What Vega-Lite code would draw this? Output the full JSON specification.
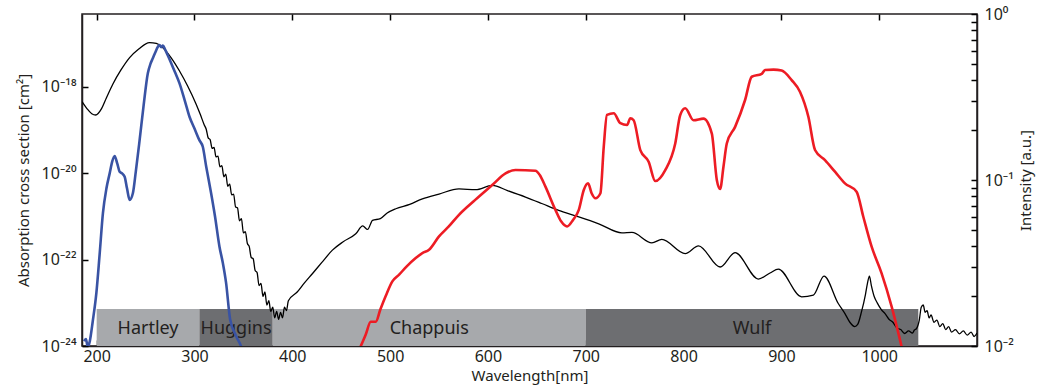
{
  "$schema": "https://vega.github.io/schema/vega-lite/v6.json",
  "width": 895,
  "height": 332,
  "autosize": "none",
  "padding": {"left": 82, "top": 14, "right": 65, "bottom": 44},
  "config": {
    "font": "Noto Sans",
    "view": {"stroke": "#231F20", "strokeWidth": 1.5},
    "axis": {
      "domainColor": "#231F20", "domainWidth": 1.5,
      "labelColor": "#231F20", "labelFont": "Noto Sans", "labelFontSize": 16,
      "titleColor": "#231F20", "titleFont": "Noto Sans", "titleFontSize": 15, "titleFontWeight": "normal",
      "grid": false
    }
  },
  "datasets": {
    "bands": [
      {"band": "Hartley", "start": 200, "end": 305},
      {"band": "Huggins", "start": 305, "end": 380},
      {"band": "Chappuis", "start": 380, "end": 700},
      {"band": "Wulf", "start": 700, "end": 1040}
    ],
    "ozone": [
      {"wl":185,"sigma":4.57e-19},{"wl":190,"sigma":3.16e-19},{"wl":195,"sigma":2.40e-19},{"wl":199,"sigma":2.24e-19},
      {"wl":205,"sigma":3.16e-19},{"wl":210,"sigma":5.62e-19},{"wl":216.6,"sigma":1.17e-18},{"wl":225,"sigma":2.51e-18},
      {"wl":233.7,"sigma":4.79e-18},{"wl":243,"sigma":7.59e-18},{"wl":254,"sigma":1.07e-17},{"wl":261,"sigma":1.02e-17},
      {"wl":267.7,"sigma":8.13e-18},{"wl":276,"sigma":4.79e-18},{"wl":284.7,"sigma":2.34e-18},{"wl":293,"sigma":1.05e-18},
      {"wl":301.7,"sigma":3.98e-19},{"wl":306,"sigma":2.29e-19},{"wl":310,"sigma":1.32e-19},{"wl":312,"sigma":1.05e-19},
      {"wl":314,"sigma":6.61e-20},{"wl":316,"sigma":6.03e-20},{"wl":318,"sigma":3.80e-20},{"wl":320,"sigma":3.98e-20},
      {"wl":322,"sigma":2.40e-20},{"wl":324,"sigma":2.51e-20},{"wl":326,"sigma":1.41e-20},{"wl":328,"sigma":1.51e-20},
      {"wl":330,"sigma":8.32e-21},{"wl":332,"sigma":9.55e-21},{"wl":334,"sigma":5.01e-21},{"wl":336,"sigma":5.62e-21},
      {"wl":338,"sigma":3.16e-21},{"wl":340,"sigma":3.31e-21},{"wl":342,"sigma":1.66e-21},{"wl":344,"sigma":1.58e-21},
      {"wl":346,"sigma":7.94e-22},{"wl":348,"sigma":8.91e-22},{"wl":350,"sigma":4.17e-22},{"wl":352,"sigma":4.47e-22},
      {"wl":354,"sigma":2.40e-22},{"wl":356,"sigma":2.00e-22},{"wl":358,"sigma":1.12e-22},{"wl":360,"sigma":1.05e-22},
      {"wl":362,"sigma":5.62e-23},{"wl":364,"sigma":5.01e-23},{"wl":366,"sigma":2.51e-23},{"wl":368,"sigma":2.82e-23},
      {"wl":370,"sigma":1.41e-23},{"wl":372,"sigma":1.78e-23},{"wl":374,"sigma":8.91e-24},{"wl":376,"sigma":1.12e-23},
      {"wl":378,"sigma":6.31e-24},{"wl":380,"sigma":7.94e-24},{"wl":382,"sigma":4.47e-24},{"wl":384,"sigma":6.31e-24},
      {"wl":386,"sigma":4.17e-24},{"wl":388,"sigma":6.03e-24},{"wl":390,"sigma":4.47e-24},{"wl":392,"sigma":7.94e-24},
      {"wl":394,"sigma":6.61e-24},{"wl":396,"sigma":1.12e-23},{"wl":405,"sigma":1.78e-23},{"wl":412,"sigma":2.82e-23},
      {"wl":420.7,"sigma":4.79e-23},{"wl":430,"sigma":8.5e-23},{"wl":441,"sigma":1.66e-22},{"wl":452,"sigma":2.6e-22},
      {"wl":464.9,"sigma":3.98e-22},{"wl":472,"sigma":6.03e-22},{"wl":477,"sigma":5.01e-22},{"wl":482,"sigma":8.13e-22},
      {"wl":490,"sigma":8.91e-22},{"wl":497,"sigma":1.20e-21},{"wl":505.8,"sigma":1.51e-21},{"wl":520,"sigma":1.91e-21},
      {"wl":533,"sigma":2.57e-21},{"wl":550,"sigma":3.31e-21},{"wl":570.4,"sigma":4.37e-21},{"wl":587.4,"sigma":4.17e-21},
      {"wl":604.4,"sigma":5.25e-21},{"wl":620,"sigma":3.98e-21},{"wl":638.4,"sigma":2.82e-21},{"wl":655,"sigma":2.00e-21},
      {"wl":672.4,"sigma":1.38e-21},{"wl":692.9,"sigma":9.77e-22},{"wl":713.3,"sigma":6.76e-22},{"wl":737,"sigma":4.17e-22},
      {"wl":747.2,"sigma":4.27e-22},{"wl":767.6,"sigma":2.45e-22},{"wl":777.8,"sigma":2.95e-22},{"wl":801.7,"sigma":1.38e-22},
      {"wl":815.3,"sigma":2.09e-22},{"wl":837.4,"sigma":6.76e-23},{"wl":852.7,"sigma":1.45e-22},{"wl":876.5,"sigma":3.55e-23},
      {"wl":888.4,"sigma":4.90e-23},{"wl":896.9,"sigma":6.03e-23},{"wl":920.7,"sigma":1.38e-23},{"wl":932.7,"sigma":1.51e-23},
      {"wl":943.6,"sigma":4.17e-23},{"wl":958,"sigma":9.77e-24},{"wl":965,"sigma":5.62e-24},{"wl":970,"sigma":3.55e-24},
      {"wl":975,"sigma":2.82e-24},{"wl":978,"sigma":3.16e-24},{"wl":982,"sigma":6.31e-24},{"wl":986,"sigma":1.58e-23},
      {"wl":988,"sigma":2.82e-23},{"wl":990,"sigma":4.17e-23},{"wl":992,"sigma":2.51e-23},{"wl":995,"sigma":1.38e-23},
      {"wl":998,"sigma":1.0e-23},{"wl":1002,"sigma":7.08e-24},{"wl":1006,"sigma":5.62e-24},{"wl":1010,"sigma":4.17e-24},
      {"wl":1014,"sigma":3.55e-24},{"wl":1018,"sigma":2.63e-24},{"wl":1022,"sigma":2.40e-24},{"wl":1026,"sigma":1.95e-24},
      {"wl":1030,"sigma":2.24e-24},{"wl":1034,"sigma":2.00e-24},{"wl":1036,"sigma":2.34e-24},{"wl":1038,"sigma":2.51e-24},
      {"wl":1041,"sigma":3.98e-24},{"wl":1043,"sigma":7.94e-24},{"wl":1045,"sigma":8.91e-24},{"wl":1047,"sigma":6.03e-24},
      {"wl":1049,"sigma":6.61e-24},{"wl":1051,"sigma":4.47e-24},{"wl":1053,"sigma":5.25e-24},{"wl":1056,"sigma":3.55e-24},
      {"wl":1059,"sigma":3.98e-24},{"wl":1062,"sigma":2.82e-24},{"wl":1065,"sigma":3.31e-24},{"wl":1068,"sigma":2.40e-24},
      {"wl":1071,"sigma":2.82e-24},{"wl":1074,"sigma":2.09e-24},{"wl":1078,"sigma":2.40e-24},{"wl":1082,"sigma":1.91e-24},
      {"wl":1086,"sigma":2.24e-24},{"wl":1090,"sigma":1.78e-24},{"wl":1094,"sigma":2.09e-24},{"wl":1097,"sigma":1.66e-24},
      {"wl":1100,"sigma":2.00e-24}
    ],
    "uvlamp": [
      {"wl":187,"I":0.0107},{"wl":189,"I":0.011},{"wl":191,"I":0.0098},{"wl":193,"I":0.0107},{"wl":196,"I":0.0141},
      {"wl":199.7,"I":0.0209},{"wl":203,"I":0.0355},{"wl":206.4,"I":0.0631},{"wl":210,"I":0.0891},{"wl":213.3,"I":0.1096},
      {"wl":216,"I":0.130},{"wl":218.4,"I":0.1396},{"wl":221,"I":0.1259},{"wl":223.5,"I":0.1122},{"wl":226,"I":0.1096},
      {"wl":228.6,"I":0.1047},{"wl":231,"I":0.0891},{"wl":233.7,"I":0.0759},{"wl":237,"I":0.0832},{"wl":240,"I":0.1122},
      {"wl":243.9,"I":0.1738},{"wl":248,"I":0.2818},{"wl":252.3,"I":0.4395},{"wl":255,"I":0.501},{"wl":257.4,"I":0.5408},
      {"wl":260,"I":0.5888},{"wl":262.6,"I":0.6353},{"wl":264.3,"I":0.650},{"wl":266,"I":0.631},{"wl":267.7,"I":0.6457},
      {"wl":270,"I":0.61},{"wl":275,"I":0.5248},{"wl":280,"I":0.4467},{"wl":284.7,"I":0.382},{"wl":290,"I":0.302},
      {"wl":294.9,"I":0.2404},{"wl":300,"I":0.2042},{"wl":305,"I":0.1738},{"wl":308.5,"I":0.1585},{"wl":312,"I":0.1202},
      {"wl":317,"I":0.0832},{"wl":321,"I":0.0603},{"wl":325.5,"I":0.0398},{"wl":329,"I":0.0316},{"wl":332.3,"I":0.024},
      {"wl":336.4,"I":0.0145},{"wl":342.5,"I":0.0115},{"wl":348,"I":0.0098},{"wl":350,"I":0.0089}
    ],
    "vislamp": [
      {"wl":469.4,"I":0.0098},{"wl":475,"I":0.0117},{"wl":480.2,"I":0.014},{"wl":485.3,"I":0.014},{"wl":490,"I":0.0166},
      {"wl":495.5,"I":0.02},{"wl":502.3,"I":0.0245},{"wl":509.2,"I":0.0269},{"wl":517,"I":0.0302},{"wl":526.2,"I":0.0339},
      {"wl":533,"I":0.0363},{"wl":539.8,"I":0.038},{"wl":550,"I":0.0457},{"wl":560,"I":0.0525},{"wl":570.4,"I":0.0617},
      {"wl":587,"I":0.0759},{"wl":604.4,"I":0.0933},{"wl":618,"I":0.1096},{"wl":628.2,"I":0.1148},{"wl":648.6,"I":0.1138},
      {"wl":653,"I":0.1072},{"wl":658.8,"I":0.0912},{"wl":669,"I":0.0661},{"wl":675,"I":0.0562},{"wl":680.9,"I":0.0525},
      {"wl":687,"I":0.0575},{"wl":692.9,"I":0.0661},{"wl":698,"I":0.0871},{"wl":702.4,"I":0.0955},{"wl":706,"I":0.0832},
      {"wl":709.9,"I":0.0776},{"wl":715,"I":0.0832},{"wl":718.4,"I":0.1585},{"wl":721.7,"I":0.2466},{"wl":728.6,"I":0.2523},
      {"wl":735.4,"I":0.2198},{"wl":742.2,"I":0.2143},{"wl":745.6,"I":0.2355},{"wl":749,"I":0.2291},{"wl":755.8,"I":0.1514},
      {"wl":764.3,"I":0.1288},{"wl":771.1,"I":0.0986},{"wl":781.3,"I":0.1148},{"wl":791.5,"I":0.166},{"wl":796.6,"I":0.2466},
      {"wl":801.7,"I":0.2704},{"wl":810.2,"I":0.2291},{"wl":820.4,"I":0.2344},{"wl":828.9,"I":0.1905},{"wl":834,"I":0.1},
      {"wl":837.4,"I":0.0883},{"wl":840.8,"I":0.1202},{"wl":844.2,"I":0.166},{"wl":852.7,"I":0.2089},{"wl":862.9,"I":0.3034},
      {"wl":869.7,"I":0.4188},{"wl":879.9,"I":0.4355},{"wl":883.3,"I":0.4603},{"wl":892,"I":0.4624},{"wl":900.3,"I":0.456},
      {"wl":910.5,"I":0.3999},{"wl":919,"I":0.3404},{"wl":927.6,"I":0.2404},{"wl":934.4,"I":0.1517},{"wl":944.6,"I":0.1318},
      {"wl":954.8,"I":0.1122},{"wl":965,"I":0.0955},{"wl":976.9,"I":0.0851},{"wl":983.7,"I":0.0603},{"wl":992.2,"I":0.0398},
      {"wl":1002.4,"I":0.0275},{"wl":1012.6,"I":0.0174},{"wl":1021.1,"I":0.011},{"wl":1024,"I":0.0093}
    ]
  },
  "layer": [
    {
      "layer": [
        {
          "data": {"name": "bands"},
          "mark": {"type": "rect", "clip": true},
          "encoding": {
            "x": {"field": "start", "type": "quantitative", "scale": {"domain": [185, 1100], "nice": false}},
            "x2": {"field": "end"},
            "y": {"datum": 7.2e-24, "type": "quantitative", "scale": {"type": "log", "domain": [1e-24, 4.9e-17], "nice": false}},
            "y2": {"datum": 1e-24},
            "color": {"field": "band", "type": "nominal", "legend": null,
              "scale": {"domain": ["Hartley", "Huggins", "Chappuis", "Wulf"], "range": ["#A7A9AC", "#6D6E71", "#A7A9AC", "#6D6E71"]}}
          }
        },
        {
          "data": {"name": "bands"},
          "transform": [{"calculate": "(datum.start + datum.end) / 2", "as": "mid"}],
          "mark": {"type": "text", "font": "Noto Sans", "fontSize": 18, "color": "#231F20", "baseline": "middle", "align": "center"},
          "encoding": {
            "x": {"field": "mid", "type": "quantitative", "scale": {"domain": [185, 1100], "nice": false}},
            "y": {"datum": 2.5e-24, "type": "quantitative", "scale": {"type": "log", "domain": [1e-24, 4.9e-17], "nice": false}},
            "text": {"field": "band"}
          }
        },
        {
          "data": {"name": "ozone"},
          "mark": {"type": "line", "color": "#000000", "strokeWidth": 1.3, "clip": true, "interpolate": "monotone"},
          "encoding": {
            "x": {"field": "wl", "type": "quantitative", "scale": {"domain": [185, 1100], "nice": false},
              "axis": {"orient": "bottom", "values": [200, 300, 400, 500, 600, 700, 800, 900, 1000], "format": "d", "title": "Wavelength[nm]",
                "ticks": true, "tickSize": -6, "tickColor": "black", "tickWidth": 1.5,
                "labelPadding": 8, "titlePadding": 4}},
            "y": {"field": "sigma", "type": "quantitative", "scale": {"type": "log", "domain": [1e-24, 4.9e-17], "nice": false},
              "axis": {"orient": "left", "values": [1e-24, 1e-22, 1e-20, 1e-18], "title": "Absorption cross section [cm²]",
                "labelExpr": "datum.value < 1e-23 ? '10⁻²⁴' : datum.value < 1e-21 ? '10⁻²²' : datum.value < 1e-19 ? '10⁻²⁰' : '10⁻¹⁸'",
                "ticks": true, "tickSize": -6, "tickColor": "black", "tickWidth": 1.5,
                "labelPadding": 12, "titlePadding": 10}}
          }
        }
      ]
    },
    {
      "layer": [
        {
          "data": {"name": "uvlamp"},
          "mark": {"type": "line", "color": "#3953A4", "strokeWidth": 2.6, "clip": true, "interpolate": "monotone"},
          "encoding": {
            "x": {"field": "wl", "type": "quantitative", "scale": {"domain": [185, 1100], "nice": false},
              "axis": {"orient": "top", "values": [200, 300, 400, 500, 600, 700, 800, 900, 1000], "labels": false, "title": null, "domain": false,
                "ticks": true, "tickSize": -6, "tickColor": "black", "tickWidth": 1.5}},
            "y": {"field": "I", "type": "quantitative", "scale": {"type": "log", "domain": [0.01, 1], "nice": false},
              "axis": {"orient": "right", "title": "Intensity [a.u.]", "titleAngle": -90, "titlePadding": 20,
                "values": [0.01, 0.02, 0.03, 0.04, 0.05, 0.06, 0.07, 0.08, 0.09, 0.1, 0.2, 0.3, 0.4, 0.5, 0.6, 0.7, 0.8, 0.9, 1],
                "labelExpr": "datum.value == 0.01 ? '10⁻²' : datum.value == 0.1 ? '10⁻¹' : datum.value == 1 ? '10⁰' : ''",
                "ticks": true, "tickSize": -6, "tickColor": "black", "tickWidth": 1.5,
                "labelPadding": 13}}
          }
        },
        {
          "data": {"name": "vislamp"},
          "mark": {"type": "line", "color": "#ED1C24", "strokeWidth": 2.6, "clip": true, "interpolate": "monotone"},
          "encoding": {
            "x": {"field": "wl", "type": "quantitative"},
            "y": {"field": "I", "type": "quantitative"}
          }
        }
      ]
    }
  ],
  "resolve": {"scale": {"y": "independent"}, "axis": {"x": "independent"}}
}
